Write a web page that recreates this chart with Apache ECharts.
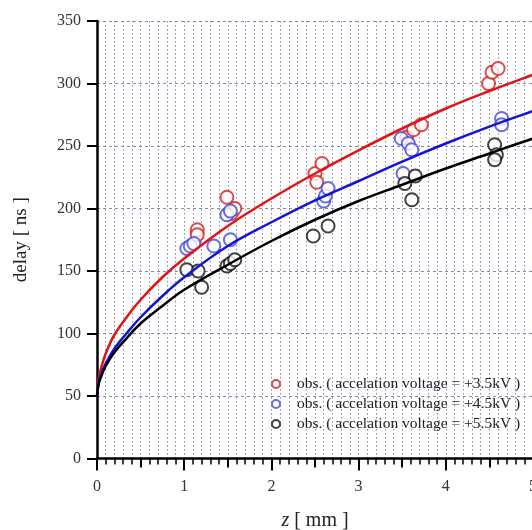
<!DOCTYPE html>
<html>
<head>
<meta charset="utf-8">
<script src="https://cdn.jsdelivr.net/npm/echarts@6/dist/echarts.min.js"></script>
<style>
html,body{margin:0;padding:0;background:#fff;}
#main{width:532px;height:530px;}
</style>
</head>
<body>
<div id="main"></div>
<script>
var redZ = [1.15, 1.15, 1.49, 1.54, 1.58, 2.50, 2.52, 2.58, 3.55, 3.63, 3.72, 4.49, 4.53, 4.60];
var redV = [183, 179, 209, 196, 200, 228, 221, 236, 257, 263, 267, 300, 309, 312];
var blueZ = [1.03, 1.07, 1.11, 1.34, 1.49, 1.53, 1.53, 2.60, 2.62, 2.65, 3.49, 3.57, 3.61, 3.51, 4.64, 4.64];
var blueV = [168, 170, 172, 170, 195, 198, 175, 206, 210, 216, 256, 252, 247, 228, 272, 267];
var blackZ = [1.03, 1.16, 1.20, 1.49, 1.53, 1.58, 2.48, 2.65, 3.53, 3.65, 3.61, 4.56, 4.58, 4.56];
var blackV = [151, 150, 137, 154, 156, 159, 178, 186, 220, 226, 207, 251, 243, 239];

// fitted curves at these z
var fitZ = [0, 0.02, 0.05, 0.1, 0.2, 0.35, 0.5, 0.75, 1, 1.5, 2, 2.5, 3, 3.5, 4, 4.5, 5, 5.2];
var fitRed = [50, 64, 73, 84, 99, 114, 127, 145, 160, 186, 208, 228, 246.5, 264, 280, 294, 307, 312];
var fitBlue = [50, 61, 68, 76, 88, 101, 113, 130, 145, 170, 189, 206.5, 222, 237.5, 252, 265.5, 278, 283];
var fitBlack = [50, 60, 66, 74, 85, 97, 108, 122, 135, 155, 174, 191, 206, 219, 232, 244, 256, 260];

var legendNames = [
	'obs. ( accelation voltage = +3.5kV )',
	'obs. ( accelation voltage = +4.5kV )',
	'obs. ( accelation voltage = +5.5kV )'
];
var xTicks = [0, 1, 2, 3, 4, 5];

function pairs(xs, ys){
	var out = [];
	for (var i = 0; i < xs.length; i++) out.push([xs[i], ys[i]]);
	return out;
}

var serif = '"Liberation Serif","DejaVu Serif",serif';
var gridCol = '#8a8aa8';

var myChart = echarts.init(document.getElementById('main'));

function obs(name, xs, ys, col){
	return {
		name: name,
		type: 'scatter',
		symbol: 'emptyCircle',
		symbolSize: 13,
		itemStyle: {color: col, borderColor: col, borderWidth: 2.3},
		data: pairs(xs, ys)
	};
}
function fit(name, ys, col){
	return {
		name: name,
		type: 'line',
		smooth: 0.4,
		showSymbol: false,
		clip: true,
		lineStyle: {color: col, width: 2.5},
		data: pairs(fitZ, ys),
		z: 3
	};
}

var option = {
	animation: false,
	backgroundColor: '#fff',
	grid: {left: 97, right: -1, top: 21, bottom: 71.5, containLabel: false, outerBoundsMode: 'none'},
	legend: {
		orient: 'vertical',
		left: 266,
		top: 369,
		itemWidth: 8,
		itemHeight: 8,
		itemGap: 0,
		icon: 'emptyCircle',
		itemStyle: {borderWidth: 3.5},
		textStyle: {fontFamily: serif, fontSize: 15.5, color: '#222', lineHeight: 20, padding: [0, 0, 0, 12]},
		data: legendNames
	},
	xAxis: [{
		type: 'value',
		min: 0,
		max: 5,
		interval: 1,
		name: '{i|z} [ mm ]',
		nameLocation: 'middle',
		nameGap: 52,
		nameTextStyle: {
			fontFamily: serif, fontSize: 20, color: '#222',
			rich: {i: {fontFamily: serif, fontSize: 20, fontStyle: 'italic', color: '#222'}}
		},
		axisLine: {show: true, lineStyle: {color: '#000', width: 2.5}},
		axisTick: {show: true, length: 12, lineStyle: {color: '#000', width: 2}},
		minorTick: {show: true, splitNumber: 10, length: 6, lineStyle: {color: '#000', width: 1.5}},
		axisLabel: {
			margin: 20, fontFamily: serif, fontSize: 16, color: '#333',
			formatter: function (v){ return xTicks.indexOf(v) >= 0 ? String(v) : ''; }
		},
		splitLine: {show: true, lineStyle: {color: gridCol, type: [1.5, 2.5], width: 1}},
		minorSplitLine: {show: true, lineStyle: {color: gridCol, type: [1.5, 2.5], width: 1}}
	}, {
		type: 'value',
		min: 0,
		max: 5,
		interval: 0.5,
		position: 'bottom',
		axisLine: {show: false},
		axisTick: {show: true, length: 9, lineStyle: {color: '#000', width: 2}},
		axisLabel: {show: false},
		splitLine: {show: false}
	}],
	yAxis: {
		type: 'value',
		min: 0,
		max: 350,
		interval: 50,
		name: 'delay [ ns ]',
		nameLocation: 'middle',
		nameGap: 66,
		nameTextStyle: {fontFamily: serif, fontSize: 19, color: '#222'},
		axisLine: {show: true, lineStyle: {color: '#000', width: 2.5}},
		axisTick: {show: true, length: 10, lineStyle: {color: '#000', width: 2}},
		axisLabel: {margin: 16, fontFamily: serif, fontSize: 16, color: '#333'},
		splitLine: {show: true, lineStyle: {color: gridCol, type: [3, 3], width: 1}}
	},
	series: [
		obs(legendNames[0], redZ, redV, '#d41f1f'),
		obs(legendNames[1], blueZ, blueV, '#4646dc'),
		obs(legendNames[2], blackZ, blackV, '#111'),
		fit('fit 3.5kV', fitRed, '#e01414'),
		fit('fit 4.5kV', fitBlue, '#1414d4'),
		fit('fit 5.5kV', fitBlack, '#000')
	]
};

myChart.setOption(option);
</script>
</body>
</html>
